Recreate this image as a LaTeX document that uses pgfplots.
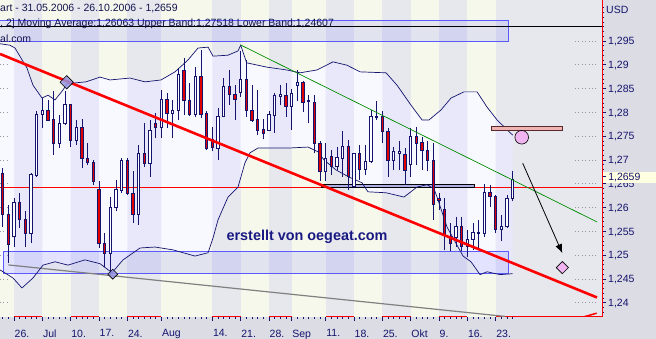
\documentclass[border=0pt]{standalone}
\usepackage{pgfplots}
\pgfplotsset{compat=1.18}
\usepackage{pgfplotstable}
\usetikzlibrary{arrows.meta}
\usepackage{fontspec}
\setmainfont{Liberation Sans}

\definecolor{outerbg}{RGB}{220,220,228}
\definecolor{graybg}{RGB}{230,232,238}
\definecolor{creambg}{RGB}{246,248,236}
\definecolor{bandlav}{RGB}{232,232,250}
\definecolor{bandwhite}{RGB}{248,248,255}
\definecolor{navy}{RGB}{20,20,110}
\definecolor{cred}{RGB}{225,0,0}
\definecolor{rectblue}{RGB}{90,90,255}
\definecolor{pinkfill}{RGB}{238,180,180}
\definecolor{pinkedge}{RGB}{90,40,40}
\definecolor{violetfill}{RGB}{240,180,240}
\definecolor{trendgreen}{RGB}{0,140,0}
\definecolor{diamblue}{RGB}{150,150,225}
\definecolor{gridgray}{RGB}{150,150,165}
\definecolor{linegray}{RGB}{128,128,128}
\definecolor{smallrect}{RGB}{175,175,232}
\definecolor{headtext}{RGB}{20,20,80}
\definecolor{marktext}{RGB}{25,25,130}
\definecolor{pricebox}{RGB}{255,255,225}

\pgfplotstableread{
d o h l c
-2 1.2672 1.2683 1.2560 1.2585
-1 1.2585 1.2606 1.2483 1.2522
0 1.2539 1.2620 1.2518 1.2611
1 1.2611 1.2630 1.2557 1.2574
2 1.2574 1.2592 1.2518 1.2546
3 1.2546 1.2672 1.2525 1.2669
4 1.2667 1.2802 1.2665 1.2795
5 1.2795 1.2830 1.2767 1.2805
6 1.2805 1.2826 1.2781 1.2784
7 1.2785 1.2844 1.2711 1.2734
8 1.2734 1.2795 1.2725 1.2777
9 1.2777 1.2844 1.2774 1.2816
10 1.2816 1.2818 1.2727 1.2742
11 1.2742 1.2784 1.2732 1.2769
12 1.2769 1.2785 1.2683 1.2704
13 1.2704 1.2735 1.2690 1.2695
14 1.2695 1.2700 1.2648 1.2655
15 1.2638 1.2655 1.2515 1.2525
16 1.2525 1.2546 1.2476 1.2503
17 1.2503 1.2623 1.2459 1.2601
18 1.2601 1.2658 1.2592 1.2638
19 1.2637 1.2704 1.2630 1.2700
20 1.2700 1.2704 1.2627 1.2630
21 1.2630 1.2676 1.2567 1.2585
22 1.2585 1.2732 1.2564 1.2714
23 1.2714 1.2777 1.2686 1.2692
24 1.2692 1.2784 1.2665 1.2763
25 1.2777 1.2798 1.2746 1.2769
26 1.2769 1.2847 1.2746 1.2827
27 1.2827 1.2840 1.2767 1.2798
28 1.2798 1.2826 1.2746 1.2805
29 1.2804 1.2893 1.2783 1.2879
30 1.2889 1.2914 1.2795 1.2826
31 1.2826 1.2861 1.2792 1.2795
32 1.2795 1.2896 1.2791 1.2875
33 1.2875 1.2931 1.2788 1.2795
34 1.2797 1.2802 1.2721 1.2725
35 1.2743 1.2770 1.2718 1.2727
36 1.2725 1.2809 1.2700 1.2792
37 1.2792 1.2872 1.2790 1.2855
38 1.2855 1.2889 1.2816 1.2837
39 1.2837 1.2858 1.2784 1.2827
40 1.2841 1.2928 1.2833 1.2869
41 1.2869 1.2910 1.2790 1.2803
42 1.2803 1.2857 1.2780 1.2784
43 1.2786 1.2847 1.2752 1.2763
44 1.2765 1.2786 1.2743 1.2756
45 1.2763 1.2802 1.2760 1.2795
46 1.2793 1.2841 1.2757 1.2836
47 1.2834 1.2857 1.2815 1.2838
48 1.2836 1.2861 1.2791 1.2812
49 1.2812 1.2850 1.2763 1.2840
50 1.2856 1.2889 1.2824 1.2863
51 1.2863 1.2866 1.2801 1.2821
52 1.2826 1.2837 1.2777 1.2823
53 1.2821 1.2837 1.2714 1.2734
54 1.2734 1.2739 1.2655 1.2676
55 1.2676 1.2735 1.2655 1.2704
56 1.2707 1.2721 1.2669 1.2686
57 1.2686 1.2728 1.2679 1.2705
58 1.2704 1.2760 1.2665 1.2728
59 1.2728 1.2742 1.2637 1.2665
60 1.2644 1.2714 1.2641 1.2713
61 1.2713 1.2732 1.2658 1.2680
62 1.2680 1.2732 1.2669 1.2697
63 1.2697 1.2805 1.2694 1.2791
64 1.2789 1.2823 1.2784 1.2791
65 1.2792 1.2802 1.2735 1.2760
66 1.2760 1.2767 1.2665 1.2700
67 1.2700 1.2728 1.2679 1.2718
68 1.2713 1.2739 1.2679 1.2718
69 1.2711 1.2725 1.2648 1.2679
70 1.2690 1.2767 1.2665 1.2749
71 1.2749 1.2770 1.2690 1.2735
72 1.2736 1.2749 1.2679 1.2721
73 1.2721 1.2739 1.2676 1.2698
74 1.2698 1.2735 1.2574 1.2606
75 1.2620 1.2630 1.2595 1.2616
76 1.2597 1.2620 1.2511 1.2543
77 1.2539 1.2567 1.2508 1.2525
78 1.2538 1.2581 1.2518 1.2561
79 1.2561 1.2581 1.2508 1.2518
80 1.2518 1.2553 1.2497 1.2533
81 1.2533 1.2568 1.2511 1.2547
82 1.2545 1.2574 1.2511 1.2547
83 1.2545 1.2650 1.2539 1.2631
84 1.2631 1.2648 1.2602 1.2623
85 1.2623 1.2627 1.2546 1.2553
86 1.2553 1.2585 1.2529 1.2561
87 1.2561 1.2627 1.2557 1.2620
88 1.2620 1.2676 1.2613 1.2659
}\candles

\pgfplotstableread{
x y
-2.4706 1.2944
-0.71 1.2941
0.18 1.2935
2.29 1.2893
3.35 1.2857
4.94 1.2830
6.00 1.2836
7.24 1.2826
8.65 1.2847
9.35 1.2860
10.94 1.2862
12.71 1.2864
15.18 1.2874
16.94 1.2868
20.47 1.2872
23.12 1.2864
25.94 1.2868
28.41 1.2885
30.71 1.2910
32.47 1.2935
34.24 1.2937
35.12 1.2918
37.76 1.2920
39.53 1.2929
40.00 1.2941
41.06 1.2904
44.59 1.2895
48.12 1.2889
50.47 1.2883
53.47 1.2889
56.29 1.2906
58.76 1.2899
61.06 1.2885
65.65 1.2883
67.59 1.2857
70.06 1.2815
72.00 1.2784
73.24 1.2784
75.35 1.2805
77.12 1.2830
79.41 1.2843
81.71 1.2843
83.47 1.2811
85.24 1.2784
88.00 1.2752
}\bandU

\pgfplotstableread{
x y
-2.4706 1.2469
-0.18 1.2452
1.41 1.2431
3.35 1.2452
5.12 1.2479
7.24 1.2486
9.53 1.2479
12.53 1.2490
15.18 1.2482
17.29 1.2463
19.24 1.2490
22.24 1.2515
24.88 1.2517
28.06 1.2511
31.94 1.2498
34.24 1.2505
35.12 1.2536
36.00 1.2574
37.76 1.2622
39.53 1.2643
40.76 1.2694
41.65 1.2715
43.06 1.2725
48.53 1.2725
51.88 1.2727
53.65 1.2717
54.71 1.2700
56.82 1.2679
59.12 1.2664
61.41 1.2652
62.47 1.2633
65.65 1.2631
68.82 1.2622
71.12 1.2643
72.88 1.2648
74.12 1.2639
74.65 1.2622
76.41 1.2559
79.24 1.2498
80.65 1.2486
82.24 1.2459
83.47 1.2465
85.76 1.2459
88.00 1.2461
}\bandL

\newcommand{\cstripe}[2]{\addplot[fill=creambg, draw=none, forget plot] coordinates {(#1,1.2370) (#2,1.2370) (#2,1.3036) (#1,1.3036)} -- cycle;}
\newcommand{\gridstub}[1]{%
  \addplot[draw=gridgray, line width=0.6pt, dash pattern=on 0.8pt off 2.6pt, forget plot] coordinates {(99,#1) (103.06,#1)};
  \addplot[draw=gridgray, line width=0.6pt, dash pattern=on 0.8pt off 2.6pt, forget plot] coordinates {(-2.4706,#1) (-0.7,#1)};}

\begin{document}
\begin{tikzpicture}
\fill[outerbg] (0,0) rectangle (656pt,339pt);
\useasboundingbox (0,0) rectangle (656pt,339pt);
\begin{axis}[
  at={(0pt,22pt)}, anchor=south west,
  scale only axis, width=602pt, height=317pt,
  xmin=-2.4706, xmax=103.76, ymin=1.2370, ymax=1.3036,
  clip mode=individual,
  axis background/.style={fill=graybg},
  axis x line*=box, axis y line*=right,
  xtick pos=left,
  axis line style={draw=red, line width=1pt},
  tick align=outside,
  major tick length=4pt, minor tick length=2pt,
  tick style={draw=navy, line width=0.6pt},
  xtick={0,5,10,15,20,26,35,40,45,49,55,60,65,70,75,80,85},
  xticklabels={26.,Jul,10.,17.,24.,Aug,14.,21.,28.,Sep,11.,18.,25.,Okt,9.,16.,23.},
  minor xtick={-2,-1,...,88},
  ytick={1.24,1.245,1.25,1.255,1.26,1.265,1.27,1.275,1.28,1.285,1.29,1.295},
  yticklabels={{1,24},{1,245},{1,25},{1,255},{1,26},{1,265},{1,27},{1,275},{1,28},{1,285},{1,29},{1,295}},
  minor ytick={1.238,1.239,1.241,1.242,1.243,1.244,1.246,1.247,1.248,1.249,1.251,1.252,1.253,1.254,1.256,1.257,1.258,1.259,1.261,1.262,1.263,1.264,1.266,1.267,1.268,1.269,1.271,1.272,1.273,1.274,1.276,1.277,1.278,1.279,1.281,1.282,1.283,1.284,1.286,1.287,1.288,1.289,1.291,1.292,1.293,1.294,1.296,1.297,1.298,1.299,1.300,1.301,1.302},
  xticklabel style={anchor=north west, inner sep=0pt, xshift=0.5pt, yshift=-8.5pt, text=navy, font=\fontsize{10.5}{12}\selectfont},
  yticklabel style={anchor=west, inner sep=0pt, xshift=2pt, text=navy, text height=7.5pt, text depth=0pt, font=\fontsize{10.5}{12}\selectfont},
]
% week stripes
\cstripe{-2.4706}{0}
\cstripe{5}{10}
\cstripe{15}{20}
\cstripe{26}{35}
\cstripe{40}{45}
\cstripe{49}{55}
\cstripe{60}{65}
\cstripe{70}{75}
\cstripe{80}{85}
% Bollinger band area (upper band forward, lower band back)
\addplot[fill=bandlav, draw=none, forget plot] coordinates {
(-2.4706,1.2944) (-0.71,1.2941) (0.18,1.2935) (2.29,1.2893) (3.35,1.2857) (4.94,1.2830) (6.00,1.2836) (7.24,1.2826) (8.65,1.2847) (9.35,1.2860) (10.94,1.2862) (12.71,1.2864) (15.18,1.2874) (16.94,1.2868) (20.47,1.2872) (23.12,1.2864) (25.94,1.2868) (28.41,1.2885) (30.71,1.2910) (32.47,1.2935) (34.24,1.2937) (35.12,1.2918) (37.76,1.2920) (39.53,1.2929) (40.00,1.2941) (41.06,1.2904) (44.59,1.2895) (48.12,1.2889) (50.47,1.2883) (53.47,1.2889) (56.29,1.2906) (58.76,1.2899) (61.06,1.2885) (65.65,1.2883) (67.59,1.2857) (70.06,1.2815) (72.00,1.2784) (73.24,1.2784) (75.35,1.2805) (77.12,1.2830) (79.41,1.2843) (81.71,1.2843) (83.47,1.2811) (85.24,1.2784) (88.00,1.2752)
(88.00,1.2461) (85.76,1.2459) (83.47,1.2465) (82.24,1.2459) (80.65,1.2486) (79.24,1.2498) (76.41,1.2559) (74.65,1.2622) (74.12,1.2639) (72.88,1.2648) (71.12,1.2643) (68.82,1.2622) (65.65,1.2631) (62.47,1.2633) (61.41,1.2652) (59.12,1.2664) (56.82,1.2679) (54.71,1.2700) (53.65,1.2717) (51.88,1.2727) (48.53,1.2725) (43.06,1.2725) (41.65,1.2715) (40.76,1.2694) (39.53,1.2643) (37.76,1.2622) (36.00,1.2574) (35.12,1.2536) (34.24,1.2505) (31.94,1.2498) (28.06,1.2511) (24.88,1.2517) (22.24,1.2515) (19.24,1.2490) (17.29,1.2463) (15.18,1.2482) (12.53,1.2490) (9.53,1.2479) (7.24,1.2486) (5.12,1.2479) (3.35,1.2452) (1.41,1.2431) (-0.18,1.2452) (-2.4706,1.2469)} -- cycle;
% lighter band parts on the cream weeks
\addplot[fill=bandwhite, draw=none, forget plot] coordinates {(-2.4706,1.2944) (-0.71,1.2941) (0,1.2936) (0,1.2450) (-0.18,1.2452) (-2.4706,1.2469)} -- cycle;
\addplot[fill=bandwhite, draw=none, forget plot] coordinates {(5,1.2830) (6,1.2836) (7.24,1.2826) (8.65,1.2847) (9.35,1.2860) (10,1.2861) (10,1.2481) (9.53,1.2479) (7.24,1.2486) (5.12,1.2479) (5,1.2477)} -- cycle;
\addplot[fill=bandwhite, draw=none, forget plot] coordinates {(15,1.2873) (15.18,1.2874) (16.94,1.2868) (20,1.2872) (20,1.2496) (19.24,1.2490) (17.29,1.2463) (15.18,1.2482) (15,1.2483)} -- cycle;
\addplot[fill=bandwhite, draw=none, forget plot] coordinates {(26,1.2868) (28.41,1.2885) (30.71,1.2910) (32.47,1.2935) (34.24,1.2937) (35,1.2921) (35,1.2532) (34.24,1.2505) (31.94,1.2498) (28.06,1.2511) (26,1.2515)} -- cycle;
\addplot[fill=bandwhite, draw=none, forget plot] coordinates {(40,1.2941) (41.06,1.2904) (44.59,1.2895) (45,1.2894) (45,1.2725) (43.06,1.2725) (41.65,1.2715) (40.76,1.2694) (40,1.2663)} -- cycle;
\addplot[fill=bandwhite, draw=none, forget plot] coordinates {(49,1.2887) (50.47,1.2883) (53.47,1.2889) (55,1.2898) (55,1.2697) (54.71,1.2700) (53.65,1.2717) (51.88,1.2727) (49,1.2725)} -- cycle;
\addplot[fill=bandwhite, draw=none, forget plot] coordinates {(60,1.2892) (61.06,1.2885) (65,1.2883) (65,1.2631) (62.47,1.2633) (61.41,1.2652) (60,1.2659)} -- cycle;
\addplot[fill=bandwhite, draw=none, forget plot] coordinates {(70,1.2816) (70.06,1.2815) (72,1.2784) (73.24,1.2784) (75,1.2802) (75,1.2610) (74.65,1.2622) (74.12,1.2639) (72.88,1.2648) (71.12,1.2643) (70,1.2633)} -- cycle;
\addplot[fill=bandwhite, draw=none, forget plot] coordinates {(80,1.2843) (81.71,1.2843) (83.47,1.2811) (85,1.2788) (85,1.2461) (83.47,1.2465) (82.24,1.2459) (80.65,1.2486) (80,1.2492)} -- cycle;
% dotted grid stubs
\gridstub{1.24}\gridstub{1.245}\gridstub{1.25}\gridstub{1.255}\gridstub{1.26}\gridstub{1.265}
\gridstub{1.27}\gridstub{1.275}\gridstub{1.28}\gridstub{1.285}\gridstub{1.29}\gridstub{1.295}
% rectangles
\addplot[fill=rectblue, fill opacity=0.13, draw=rectblue, line width=1pt, forget plot] coordinates {(-2.7,1.29498) (87.18,1.29498) (87.18,1.29939) (-2.7,1.29939)} -- cycle;
\addplot[fill=rectblue, fill opacity=0.13, draw=rectblue, line width=1pt, forget plot] coordinates {(-1.765,1.24618) (87.18,1.24618) (87.18,1.25067) (-1.765,1.25067)} -- cycle;
% lines
\addplot[draw=black, line width=0.8pt, forget plot] coordinates {(-2.4706,1.29813) (103.76,1.29813)};
\addplot[draw=linegray, line width=1.2pt, forget plot] coordinates {(-1,1.24794) (86.65,1.23712)};
\addplot[draw=red, line width=0.8pt, forget plot] coordinates {(-2.4706,1.26427) (103.76,1.26427)};
\addplot[fill=smallrect, draw=black, line width=0.8pt, forget plot] coordinates {(54.18,1.26427) (81.18,1.26427) (81.18,1.26488) (54.18,1.26488)} -- cycle;
% band lines
\addplot[draw=navy, line width=0.7pt, forget plot] table[x=x,y=y] {\bandU};
\addplot[draw=navy, line width=0.7pt, forget plot] table[x=x,y=y] {\bandL};
% candles
\pgfplotsforeachungrouped \i in {0,...,90}{%
  \pgfplotstablegetelem{\i}{d}\of\candles \let\cd=\pgfplotsretval
  \pgfplotstablegetelem{\i}{o}\of\candles \let\co=\pgfplotsretval
  \pgfplotstablegetelem{\i}{h}\of\candles \let\ch=\pgfplotsretval
  \pgfplotstablegetelem{\i}{l}\of\candles \let\cl=\pgfplotsretval
  \pgfplotstablegetelem{\i}{c}\of\candles \let\cc=\pgfplotsretval
  \pgfmathsetmacro\xl{\cd-0.2}%
  \pgfmathsetmacro\xr{\cd+0.2}%
  \pgfmathtruncatemacro\isdown{\cc<\co}%
  \ifnum\isdown=1 \def\fc{cred}\else\def\fc{white}\fi
  \edef\temp{%
    \noexpand\addplot[draw=navy, line width=0.9pt, forget plot] coordinates {(\cd,\cl) (\cd,\ch)};
    \noexpand\addplot[draw=navy, fill=\fc, line width=0.8pt, forget plot] coordinates {(\xl,\co) (\xr,\co) (\xr,\cc) (\xl,\cc)} -- cycle;
  }\temp
}
% trend lines
\addplot[draw=red, line width=2.6pt, forget plot] coordinates {(-2.4706,1.29226) (102.88,1.2411)};
\addplot[draw=red, line width=1.5pt, forget plot] coordinates {(100.46,1.2370) (102.82,1.2378)};
\addplot[draw=trendgreen, line width=0.7pt, forget plot] coordinates {(40,1.29415) (102.88,1.25697)};
% markers
\addplot[only marks, mark=square*, mark size=4.7pt, mark options={rotate=45, fill=diamblue, fill opacity=0.85, draw=black, line width=0.6pt}, forget plot] coordinates {(9.30,1.28632)};
\addplot[only marks, mark=square*, mark size=3.5pt, mark options={rotate=45, fill=diamblue, fill opacity=0.85, draw=black, line width=0.6pt}, forget plot] coordinates {(17.42,1.2460)};
\addplot[fill=pinkfill, draw=pinkedge, line width=0.8pt, forget plot] coordinates {(84.30,1.27624) (96.83,1.27624) (96.83,1.27699) (84.30,1.27699)} -- cycle;
\addplot[only marks, mark=*, mark size=6.8pt, mark options={fill=violetfill, draw=black, line width=0.6pt}, forget plot] coordinates {(89.59,1.27476)};
\addplot[draw=black, line width=0.8pt, -{Latex[length=9pt,width=7pt]}, forget plot] coordinates {(89.77,1.2693) (96.76,1.2504)};
\addplot[only marks, mark=square*, mark size=4.3pt, mark options={rotate=45, fill=violetfill, draw=black, line width=0.6pt}, forget plot] coordinates {(96.76,1.24738)};
% texts
\node[anchor=west, inner sep=0pt, text=headtext, font=\fontsize{10.5}{12}\selectfont] at (axis description cs:0,0.9716) {art - 31.05.2006 - 26.10.2006 - 1,2659};
\node[anchor=west, inner sep=0pt, text=headtext, font=\fontsize{10.5}{12}\selectfont] at (axis description cs:0,0.9243) {, 2] Moving Average:1,26063 Upper Band:1,27518 Lower Band:1,24607};
\node[anchor=west, inner sep=0pt, text=headtext, font=\fontsize{10.5}{12}\selectfont] at (axis description cs:0,0.877) {al.com};
\node[text=marktext, font=\bfseries\fontsize{14.4}{16}\selectfont] at (axis description cs:0.51,0.2533) {erstellt von oegeat.com};
\node[anchor=west, inner sep=0pt, xshift=4pt, yshift=-10pt, text=navy, font=\fontsize{10.5}{12}\selectfont] at (axis description cs:1,1) {USD};
\node[anchor=west, inner sep=0pt, xshift=0.6pt, fill=pricebox, minimum height=11pt, text width=53pt, text=navy, font=\fontsize{10.5}{12}\selectfont] at (axis cs:103.76,1.2664) {\rule[3pt]{3pt}{0.7pt}\hspace{2.5pt}1,2659};
\end{axis}
\end{tikzpicture}
\end{document}
